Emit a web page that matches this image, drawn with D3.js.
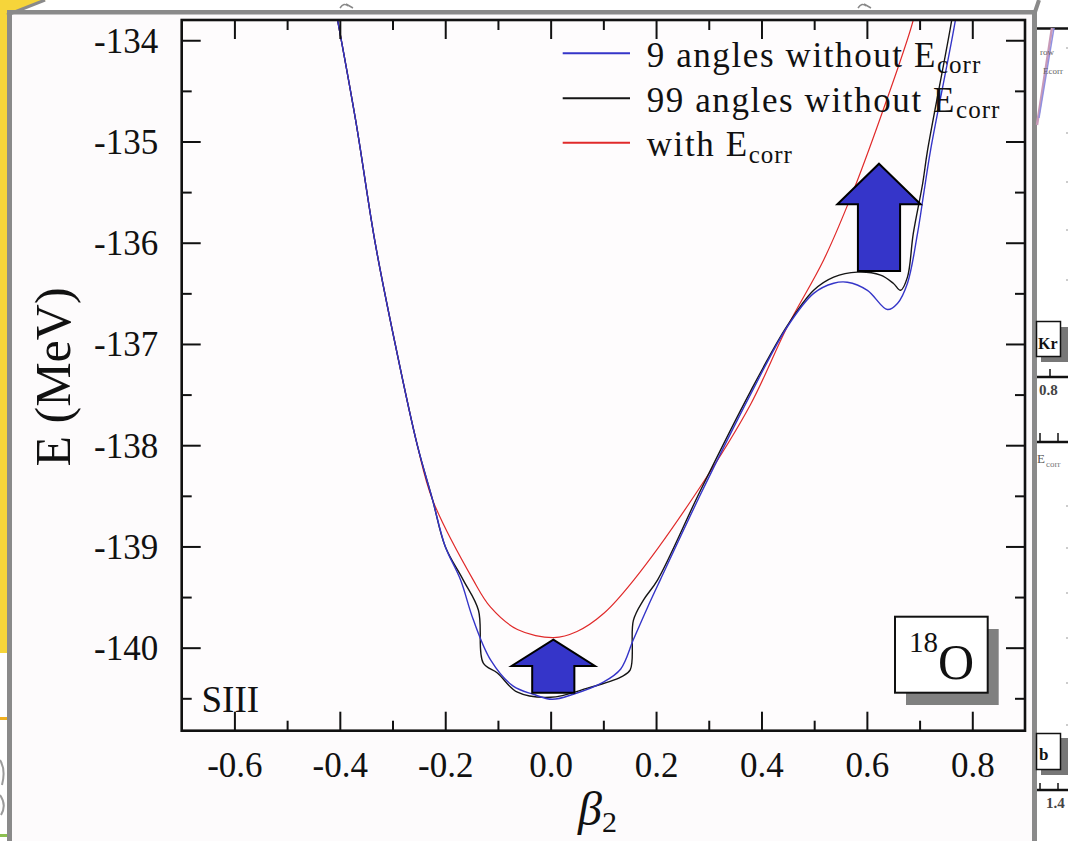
<!DOCTYPE html>
<html>
<head>
<meta charset="utf-8">
<script src="https://cdn.jsdelivr.net/npm/d3@7"></script>
<style>
  html, body { margin: 0; padding: 0; background: #ffffff; }
  svg { display: block; }
  text { font-family: "Liberation Serif", "Times New Roman", serif; fill: #111; }
</style>
</head>
<body>
<svg id="chart" width="1068" height="841"></svg>
<script>
// ---------------- data ----------------
const betaBlue = [-0.415, -0.370, -0.333, -0.295, -0.253, -0.224, -0.200, -0.171, -0.147, -0.114, -0.071, -0.033, 0.003, 0.043, 0.100, 0.133, 0.157, 0.184, 0.208, 0.284, 0.379, 0.449, 0.499, 0.537, 0.563, 0.601, 0.639, 0.658, 0.677, 0.696, 0.708, 0.721, 0.768, 0.776];
const eBlue    = [-133.50, -134.79, -136.00, -137.00, -138.00, -138.54, -139.00, -139.33, -139.72, -140.12, -140.38, -140.46, -140.51, -140.46, -140.34, -140.21, -139.92, -139.60, -139.33, -138.49, -137.50, -136.83, -136.50, -136.40, -136.39, -136.47, -136.66, -136.60, -136.40, -135.91, -135.51, -135.08, -133.80, -133.50];

const betaBlack = [-0.415, -0.370, -0.333, -0.295, -0.253, -0.224, -0.200, -0.166, -0.137, -0.128, -0.101, -0.063, 0.000, 0.070, 0.133, 0.151, 0.157, 0.176, 0.203, 0.284, 0.379, 0.449, 0.499, 0.537, 0.582, 0.626, 0.650, 0.664, 0.677, 0.688, 0.706, 0.715, 0.761, 0.769];
const eBlack    = [-133.50, -134.79, -136.00, -137.00, -138.00, -138.54, -139.00, -139.33, -139.63, -140.15, -140.25, -140.44, -140.49, -140.40, -140.29, -140.22, -139.73, -139.53, -139.33, -138.45, -137.47, -136.82, -136.47, -136.34, -136.29, -136.32, -136.40, -136.47, -136.34, -135.91, -135.41, -135.09, -133.80, -133.50];

const betaRed = [-0.415, -0.370, -0.333, -0.295, -0.253, -0.224, -0.147, -0.114, -0.063, 0.006, 0.050, 0.101, 0.158, 0.284, 0.379, 0.449, 0.518, 0.571, 0.626, 0.688, 0.697];
const eRed    = [-133.50, -134.79, -136.00, -137.00, -138.00, -138.54, -139.33, -139.60, -139.82, -139.90, -139.84, -139.66, -139.33, -138.41, -137.60, -136.83, -136.17, -135.53, -134.76, -133.80, -133.55];

const seriesNames  = ["9 angles without E", "99 angles without E", "with E"];
const seriesSub    = ["corr", "corr", "corr"];
const seriesColors = ["#3535c8", "#151515", "#e02a2a"];

const xTickValues = [-0.6, -0.4, -0.2, 0.0, 0.2, 0.4, 0.6, 0.8];
const xTickLabels = ["-0.6", "-0.4", "-0.2", "0.0", "0.2", "0.4", "0.6", "0.8"];
const xMinorTicks = [-0.5, -0.3, -0.1, 0.1, 0.3, 0.5, 0.7];
const yTickValues = [-140, -139, -138, -137, -136, -135, -134];
const yTickLabels = ["-140", "-139", "-138", "-137", "-136", "-135", "-134"];
const yMinorTicks = [-140.5, -139.5, -138.5, -137.5, -136.5, -135.5, -134.5];

// arrows (annotation) in data units
const arrowBeta      = [0.005, 0.623];
const arrowTipE      = [-139.92, -135.22];
const arrowWingE     = [-140.18, -135.62];
const arrowBaseE     = [-140.445, -136.28];
const arrowHeadHalf  = 0.079;
const arrowShaftHalf = 0.040;

// ---------------- layout ----------------
const svg = d3.select("#chart");
const L = 181.7, R = 1025, T = 20, B = 730.7;
const x = d3.scaleLinear().domain([-0.7, 0.9]).range([L, R]);
const y = d3.scaleLinear().domain([-140.82, -133.8]).range([B, T]);

// ---------- slide background pieces ----------
svg.append("rect").attr("x", 0).attr("y", 0).attr("width", 1068).attr("height", 841).attr("fill", "#ffffff");
svg.append("rect").attr("x", 10).attr("y", 12).attr("width", 1024).attr("height", 829).attr("fill", "#fdfbfc");
// yellow strip at left
svg.append("rect").attr("x", 0).attr("y", 0).attr("width", 7).attr("height", 653).attr("fill", "#f6d53a");
svg.append("path").attr("d", "M0,0 L46,0 L8,14 L0,14 Z").attr("fill", "#f6d53a");
svg.append("line").attr("x1", 7).attr("y1", 15).attr("x2", 45).attr("y2", 0).attr("stroke", "#8a8a8a").attr("stroke-width", 3);
svg.append("rect").attr("x", 0).attr("y", 717).attr("width", 7).attr("height", 3).attr("fill", "#f0b020");
svg.append("rect").attr("x", 0).attr("y", 834).attr("width", 7).attr("height", 3).attr("fill", "#8cc050");
svg.append("path").attr("d", "M0,760 Q6,770 2,785 M0,795 Q7,805 1,815").attr("fill", "none").attr("stroke", "#9a9a9a").attr("stroke-width", 2);
// gray frame
svg.append("rect").attr("x", 7).attr("y", 10).attr("width", 5).attr("height", 831).attr("fill", "#8a8a8a");
svg.append("rect").attr("x", 7).attr("y", 10).attr("width", 1030).attr("height", 4.5).attr("fill", "#8a8a8a");
svg.append("rect").attr("x", 1032).attr("y", 10).attr("width", 5).attr("height", 831).attr("fill", "#8a8a8a");
svg.append("line").attr("x1", 1035).attr("y1", 12).attr("x2", 1039).attr("y2", 0).attr("stroke", "#8a8a8a").attr("stroke-width", 4);
// tiny glyph fragments of the slide above the frame
svg.append("path").attr("d", "M340,8 Q344,2 348,6 M346,4 L353,8").attr("fill", "none").attr("stroke", "#888").attr("stroke-width", 1.5);
svg.append("path").attr("d", "M858,8 Q862,2 866,6 M864,4 L871,8").attr("fill", "none").attr("stroke", "#888").attr("stroke-width", 1.5);

// neighbouring figure at the right edge
const side = svg.append("g");
side.append("line").attr("x1", 1037).attr("x2", 1068).attr("y1", 28.5).attr("y2", 28.5).attr("stroke", "#111").attr("stroke-width", 2.5);
side.append("line").attr("x1", 1052).attr("y1", 28).attr("x2", 1037).attr("y2", 125).attr("stroke", "#c89ab8").attr("stroke-width", 2.5);
side.append("line").attr("x1", 1054).attr("y1", 28).attr("x2", 1039).attr("y2", 118).attr("stroke", "#9090e0").attr("stroke-width", 1.5);
side.append("text").attr("x", 1040).attr("y", 55).attr("font-size", 9).style("fill", "#666").text("row");
side.append("text").attr("x", 1043).attr("y", 74).attr("font-size", 9).style("fill", "#666").text("Ecorr");
[48, 133, 182, 230, 280, 506, 548, 593, 638, 683, 725].forEach(v => {
  side.append("line").attr("x1", 1066).attr("x2", 1068).attr("y1", v).attr("y2", v).attr("stroke", "#bbb").attr("stroke-width", 1.5);
});
side.append("rect").attr("x", 1041).attr("y", 327).attr("width", 27).attr("height", 35).attr("fill", "#777");
side.append("rect").attr("x", 1036.5).attr("y", 321.5).attr("width", 24).attr("height", 35).attr("fill", "#fff").attr("stroke", "#111").attr("stroke-width", 1.5);
side.append("text").attr("x", 1038).attr("y", 349).attr("font-size", 16).attr("font-weight", "bold").text("Kr");
side.append("line").attr("x1", 1037).attr("x2", 1068).attr("y1", 377).attr("y2", 377).attr("stroke", "#111").attr("stroke-width", 2.5);
side.append("line").attr("x1", 1050).attr("x2", 1050).attr("y1", 369).attr("y2", 377).attr("stroke", "#111").attr("stroke-width", 1.5);
side.append("text").attr("x", 1039).attr("y", 395).attr("font-size", 15).attr("font-weight", "bold").style("fill", "#444").text("0.8");
side.append("line").attr("x1", 1037).attr("x2", 1068).attr("y1", 442).attr("y2", 442).attr("stroke", "#111").attr("stroke-width", 2.5);
[1040, 1058].forEach(v => side.append("line").attr("x1", v).attr("x2", v).attr("y1", 433).attr("y2", 442).attr("stroke", "#111").attr("stroke-width", 1.5));
side.append("text").attr("x", 1037).attr("y", 463).attr("font-size", 13).style("fill", "#555").text("E");
side.append("text").attr("x", 1046).attr("y", 467).attr("font-size", 9).style("fill", "#777").text("corr");
side.append("rect").attr("x", 1041).attr("y", 738).attr("width", 27).attr("height", 37).attr("fill", "#777");
side.append("rect").attr("x", 1036.5).attr("y", 733.5).attr("width", 24).attr("height", 36).attr("fill", "#fff").attr("stroke", "#111").attr("stroke-width", 1.5);
side.append("text").attr("x", 1039).attr("y", 760).attr("font-size", 17).attr("font-weight", "bold").text("b");
side.append("line").attr("x1", 1037).attr("x2", 1068).attr("y1", 790).attr("y2", 790).attr("stroke", "#111").attr("stroke-width", 2.5);
[1040, 1058].forEach(v => side.append("line").attr("x1", v).attr("x2", v).attr("y1", 783).attr("y2", 790).attr("stroke", "#111").attr("stroke-width", 1.5));
side.append("text").attr("x", 1046).attr("y", 808).attr("font-size", 15).attr("font-weight", "bold").style("fill", "#444").text("1.4");

// ---------- plot area ----------
svg.append("rect").attr("x", L).attr("y", T).attr("width", R - L).attr("height", B - T).attr("fill", "#fefcfd");

svg.append("defs").append("clipPath").attr("id", "plotclip")
  .append("rect").attr("x", L).attr("y", T).attr("width", R - L).attr("height", B - T);

const curves = svg.append("g").attr("clip-path", "url(#plotclip)");
const line = d3.line().x(d => x(d[0])).y(d => y(d[1])).curve(d3.curveCatmullRom.alpha(0.5));
const series = [
  { b: betaBlue, e: eBlue, c: seriesColors[0], w: 1.4 },
  { b: betaBlack, e: eBlack, c: seriesColors[1], w: 1.4 },
  { b: betaRed, e: eRed, c: seriesColors[2], w: 1.2 }
];
// draw red first, then black, then blue on top
[series[2], series[1], series[0]].forEach(s => {
  curves.append("path")
    .datum(s.b.map((v, i) => [v, s.e[i]]))
    .attr("d", line)
    .attr("fill", "none")
    .attr("stroke", s.c)
    .attr("stroke-width", s.w)
    .attr("stroke-linejoin", "round");
});

// ---------- axes (ticks on all four sides, pointing inward) ----------
function styleAxis(g) {
  g.select(".domain").remove();
  g.selectAll(".tick line").attr("stroke", "#111").attr("stroke-width", 2);
}
// bottom
const gxb = svg.append("g").attr("transform", `translate(0,${B})`)
  .call(d3.axisBottom(x).tickValues(xTickValues).tickSize(-19).tickFormat((d, i) => xTickLabels[i]));
styleAxis(gxb);
gxb.selectAll(".tick text").attr("y", 46.5).attr("dy", 0).attr("font-size", 35)
  .attr("font-family", "Liberation Serif, serif").style("fill", "#111");
const gxbm = svg.append("g").attr("transform", `translate(0,${B})`)
  .call(d3.axisBottom(x).tickValues(xMinorTicks).tickSize(-10).tickFormat(""));
styleAxis(gxbm);
// top
const gxt = svg.append("g").attr("transform", `translate(0,${T})`)
  .call(d3.axisTop(x).tickValues(xTickValues).tickSize(-19).tickFormat(""));
styleAxis(gxt);
const gxtm = svg.append("g").attr("transform", `translate(0,${T})`)
  .call(d3.axisTop(x).tickValues(xMinorTicks).tickSize(-10).tickFormat(""));
styleAxis(gxtm);
// left
const gyl = svg.append("g").attr("transform", `translate(${L},0)`)
  .call(d3.axisLeft(y).tickValues(yTickValues).tickSize(-19).tickFormat((d, i) => yTickLabels[i]));
styleAxis(gyl);
gyl.selectAll(".tick text").attr("x", -23.5).attr("dy", "0.34em").attr("font-size", 35)
  .attr("font-family", "Liberation Serif, serif").style("fill", "#111");
const gylm = svg.append("g").attr("transform", `translate(${L},0)`)
  .call(d3.axisLeft(y).tickValues(yMinorTicks).tickSize(-10).tickFormat(""));
styleAxis(gylm);
// right
const gyr = svg.append("g").attr("transform", `translate(${R},0)`)
  .call(d3.axisRight(y).tickValues(yTickValues).tickSize(-19).tickFormat(""));
styleAxis(gyr);
const gyrm = svg.append("g").attr("transform", `translate(${R},0)`)
  .call(d3.axisRight(y).tickValues(yMinorTicks).tickSize(-10).tickFormat(""));
styleAxis(gyrm);

// frame
svg.append("rect").attr("x", L).attr("y", T).attr("width", R - L).attr("height", B - T)
  .attr("fill", "none").attr("stroke", "#111").attr("stroke-width", 2.6);

// ---------- arrows ----------
arrowBeta.forEach((b, i) => {
  const p = [
    [b, arrowTipE[i]],
    [b + arrowHeadHalf, arrowWingE[i]],
    [b + arrowShaftHalf, arrowWingE[i]],
    [b + arrowShaftHalf, arrowBaseE[i]],
    [b - arrowShaftHalf, arrowBaseE[i]],
    [b - arrowShaftHalf, arrowWingE[i]],
    [b - arrowHeadHalf, arrowWingE[i]]
  ];
  svg.append("path")
    .attr("d", d3.line().x(d => x(d[0])).y(d => y(d[1])).curve(d3.curveLinearClosed)(p))
    .attr("fill", "#3535c9").attr("stroke", "#000").attr("stroke-width", 2).attr("stroke-linejoin", "miter");
});

// ---------- legend ----------
const legY = [53.3, 98.3, 142.7];
const leg = svg.append("g");
seriesNames.forEach((n, i) => {
  leg.append("line").attr("x1", 562.7).attr("x2", 630).attr("y1", legY[i]).attr("y2", legY[i])
    .attr("stroke", seriesColors[i]).attr("stroke-width", 2);
  const t = leg.append("text").attr("x", 646.7).attr("y", legY[i] + 13.4)
    .attr("font-size", 35).attr("letter-spacing", "1.6px");
  t.append("tspan").text(n);
  t.append("tspan").attr("font-size", 25).attr("dy", 6.6).attr("letter-spacing", "1px").text(seriesSub[i]);
});

// ---------- labels ----------
svg.append("text").attr("x", 201.5).attr("y", 711.7).attr("font-size", 37).text("SIII");

// 18O box with shadow
svg.append("rect").attr("x", 906).attr("y", 629).attr("width", 92.7).attr("height", 76).attr("fill", "#808080");
svg.append("rect").attr("x", 895).attr("y", 616.7).attr("width", 92.7).attr("height", 76)
  .attr("fill", "#ffffff").attr("stroke", "#111").attr("stroke-width", 2);
const iso = svg.append("text").attr("x", 909).attr("y", 679);
iso.append("tspan").attr("font-size", 29).attr("dy", -27).text("18");
iso.append("tspan").attr("font-size", 50).attr("dy", 27).text("O");

// axis titles
svg.append("text").attr("transform", "translate(70,377) rotate(-90)").attr("text-anchor", "middle")
  .attr("font-size", 50).text("E (MeV)");
const xt = svg.append("text").attr("x", 578).attr("y", 825);
xt.append("tspan").attr("font-size", 48).attr("font-style", "italic").text("β");
xt.append("tspan").attr("font-size", 30).attr("dy", 7).text("2");
</script>
</body>
</html>
